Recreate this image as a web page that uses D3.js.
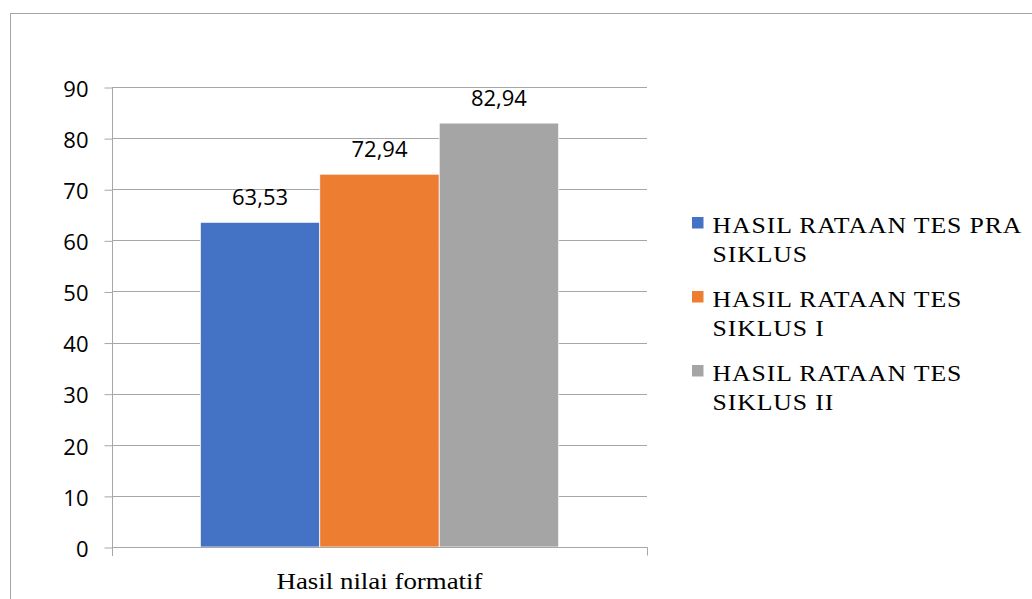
<!DOCTYPE html>
<html>
<head>
<meta charset="utf-8">
<script src="https://cdn.jsdelivr.net/npm/d3@7"></script>
<style>
html,body{margin:0;padding:0;background:#fff;}
svg{display:block;}
.serif{font-family:"Liberation Serif","DejaVu Serif",serif;}
.sans{font-family:"Open Sans",sans-serif;}
</style>
</head>
<body>
<svg id="chart" width="1032" height="599"></svg>
<script>
const categories = ["Hasil nilai formatif"];
const seriesNames = ["HASIL RATAAN TES PRA SIKLUS", "HASIL RATAAN TES SIKLUS I", "HASIL RATAAN TES SIKLUS II"];
const legendLines = [["HASIL RATAAN TES PRA", "SIKLUS"], ["HASIL RATAAN TES", "SIKLUS I"], ["HASIL RATAAN TES", "SIKLUS II"]];
const values = [63.53, 72.94, 82.94];
const valueLabels = ["63,53", "72,94", "82,94"];
const yTicks = [0, 10, 20, 30, 40, 50, 60, 70, 80, 90];
const colors = ["#4472C4", "#ED7D31", "#A5A5A5"];

const svg = d3.select("#chart");
const gridColor = "#a6a6a6";

// outer chart border
svg.append("rect").attr("x", 10.5).attr("y", 13.5).attr("width", 1040).attr("height", 600)
  .attr("fill", "none").attr("stroke", "#a6a6a6").attr("stroke-width", 1);

const plot = {left: 112, right: 647, top: 87, bottom: 547};

const y = d3.scaleLinear().domain([0, 90]).range([plot.bottom, plot.top]);
const x0 = d3.scaleBand().domain(categories).range([plot.left, plot.right])
  .paddingInner(0).paddingOuter(0.2465);
const x1 = d3.scaleBand().domain(seriesNames).range([0, x0.bandwidth()]).padding(0);

// gridlines
svg.append("g").selectAll("line").data(yTicks.filter(d => d > 0)).join("line")
  .attr("x1", plot.left).attr("x2", plot.right)
  .attr("y1", d => Math.round(y(d)) + 0.5).attr("y2", d => Math.round(y(d)) + 0.5)
  .attr("stroke", gridColor).attr("stroke-width", 1);

// bars
const g = svg.append("g");
g.selectAll("rect").data(values).join("rect")
  .attr("x", (d, i) => x0(categories[0]) + x1(seriesNames[i]))
  .attr("width", x1.bandwidth())
  .attr("y", d => y(d))
  .attr("height", d => y(0) - y(d))
  .attr("fill", (d, i) => colors[i])
  .attr("stroke", "#fff").attr("stroke-width", 0.75);

// value labels
g.selectAll("text").data(values).join("text")
  .attr("class", "sans")
  .attr("x", (d, i) => x0(categories[0]) + x1(seriesNames[i]) + x1.bandwidth() / 2)
  .attr("y", d => y(d) - 17)
  .attr("text-anchor", "middle")
  .attr("font-size", 22)
  .attr("fill", "#000")
  .text((d, i) => valueLabels[i]);

// y axis
const yAxis = d3.axisLeft(y).tickValues(yTicks).tickSize(8).tickPadding(16).tickFormat(d3.format("d"));
const ya = svg.append("g").attr("transform", `translate(${plot.left + 0.5},0)`).call(yAxis);
ya.attr("font-family", null).attr("font-size", null);
ya.select(".domain").attr("stroke", gridColor).attr("d", `M0,${plot.top}V${plot.bottom + 9}`);
ya.selectAll(".tick line").attr("stroke", gridColor).attr("transform", "translate(0,0.5)");
ya.selectAll(".tick text").attr("class", "sans").attr("font-size", 22).attr("fill", "#000")
  .attr("dy", "0.42em");

// x axis
const xAxis = d3.axisBottom(x0).tickSize(0).tickPadding(24);
const xa = svg.append("g").attr("transform", `translate(0,${plot.bottom + 0.5})`).call(xAxis);
xa.attr("font-family", null).attr("font-size", null);
xa.select(".domain").attr("stroke", gridColor).attr("d", `M${plot.left + 0.5},8V0H${plot.right + 0.5}V8`);
xa.selectAll(".tick text").attr("class", "serif")
  .attr("font-size", 24).attr("fill", "#000").attr("dy", null).attr("y", 41.5)
  .attr("transform", "scale(1.12,1)");

// legend
const leg = svg.append("g").attr("transform", "translate(692,0)");
const items = leg.selectAll("g").data(seriesNames).join("g")
  .attr("transform", (d, i) => `translate(0,${217 + i * 74})`);
items.append("rect").attr("width", 11.5).attr("height", 11.5).attr("fill", (d, i) => colors[i]);
items.each(function(d, i) {
  const t = d3.select(this).append("g").attr("transform", "translate(20.5,0) scale(1.12,1)")
    .append("text")
    .attr("class", "serif")
    .attr("font-size", 23).attr("fill", "#000").attr("letter-spacing", 0.8);
  legendLines[i].forEach((ln, j) => {
    t.append("tspan").attr("x", 0).attr("y", 15.5 + j * 30).text(ln);
  });
});
</script>
</body>
</html>
